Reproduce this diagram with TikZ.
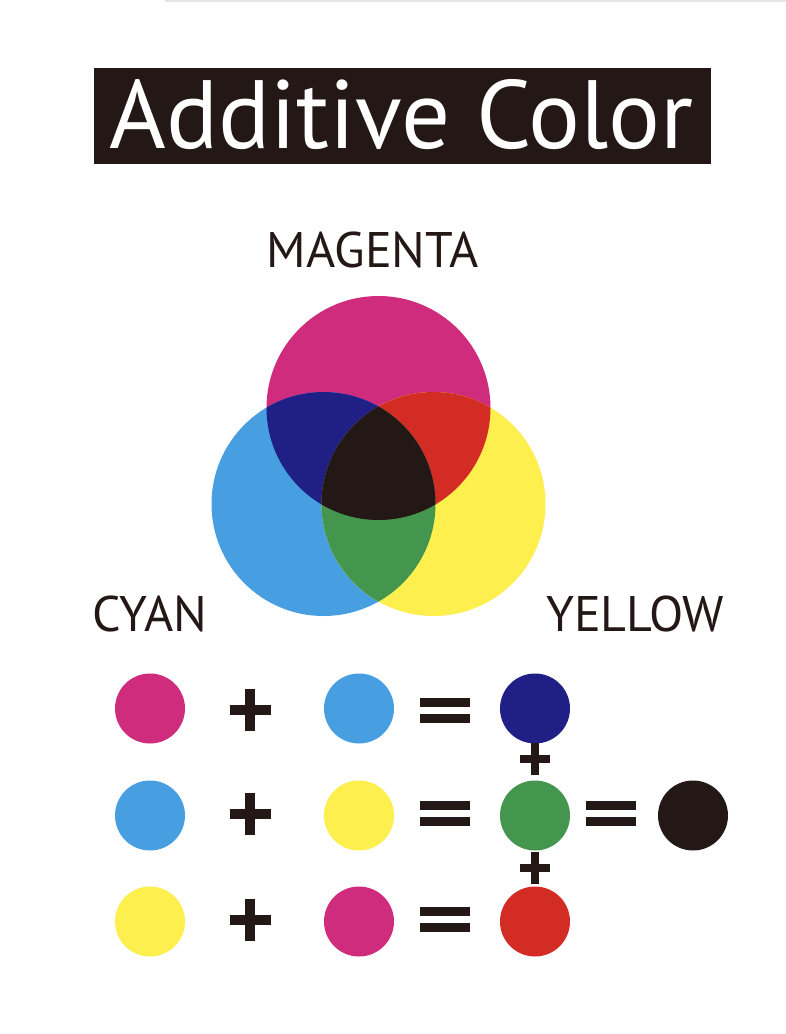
\documentclass[tikz,border=0pt]{standalone}
\usepackage{fontspec}
\setmainfont{PT Sans}
\usetikzlibrary{positioning}

\definecolor{magentaink}{HTML}{D02C7E}
\definecolor{cyanink}{HTML}{479FE1}
\definecolor{yellowink}{HTML}{FCEF4E}
\definecolor{blueink}{HTML}{1F1F85}
\definecolor{redink}{HTML}{D22C25}
\definecolor{greenink}{HTML}{44964F}
\definecolor{blackink}{HTML}{231815}

\begin{document}
\begin{tikzpicture}[
        x=1pt, y=-1pt,
        % big discs of the diagram
        bigdisc/.style={circle, minimum size=224pt, inner sep=0pt, fill=#1},
        % small discs of the sums
        colordot/.style={circle, minimum size=70pt, inner sep=0pt, fill=#1},
        inklabel/.style={font=\fontsize{50}{52}\selectfont, text=blackink, inner sep=0pt},
        pics/bigplus/.style={code={
            \fill[blackink] (-20.5pt,-5pt) rectangle (20.5pt,5pt);
            \fill[blackink] (-5pt,-21pt) rectangle (5pt,21pt);}},
        pics/smallplus/.style={code={
            \fill[blackink] (-15pt,-3.75pt) rectangle (15pt,3.75pt);
            \fill[blackink] (-3.75pt,-16pt) rectangle (3.75pt,16pt);}},
        pics/equalsign/.style={code={
            \fill[blackink] (-25pt,-12.5pt) rectangle (25pt,-3.5pt);
            \fill[blackink] (-25pt,3.5pt) rectangle (25pt,12.5pt);}}
    ]
    \useasboundingbox[fill=white] (0,0) rectangle (786,1034);

    % --- top rule and title ---
    \draw[black!10, line width=2pt] (165,1) -- (786,1);
    \node[fill=blackink, minimum width=617pt, minimum height=96pt, inner sep=0pt] (titlebox) at (402.5,116) {};
    \node[anchor=base, text=white, font=\fontsize{97}{100}\selectfont, inner sep=0pt] (title) at (401.5,148) {Additive Color};

    % --- the three discs ---
    \node[bigdisc=magentaink] (mag) at (378.5,408) {};
    \node[bigdisc=cyanink] (cya) at (323.5,504) {};
    \node[bigdisc=yellowink] (yel) at (433.5,504) {};

    % overlaps
    \begin{scope}
        \clip (mag.center) circle (112pt);
        \fill[blueink] (cya.center) circle (112pt);
        \fill[redink] (yel.center) circle (112pt);
    \end{scope}
    \begin{scope}
        \clip (cya.center) circle (112pt);
        \fill[greenink] (yel.center) circle (112pt);
        \clip (mag.center) circle (112pt);
        \fill[blackink] (yel.center) circle (112pt);
    \end{scope}

    \node[inklabel] (magtxt) at (373,250) {MAGENTA};
    \node[inklabel] (cyatxt) at (150,614) {CYAN};
    \node[inklabel] (yeltxt) at (635,614) {YELLOW};

    % --- sums ---
    \node[colordot=magentaink] (a1) at (150,708.5) {};
    \node[colordot=cyanink] (b1) at (359,708.5) {};
    \node[colordot=blueink] (c1) at (535,708.5) {};

    \node[colordot=cyanink] (a2) at (150,815.5) {};
    \node[colordot=yellowink] (b2) at (359,815.5) {};
    \node[colordot=greenink] (c2) at (535,815.5) {};
    \node[colordot=blackink] (d2) at (693,815.5) {};

    \node[colordot=yellowink] (a3) at (150,921.5) {};
    \node[colordot=magentaink] (b3) at (359,921.5) {};
    \node[colordot=redink] (c3) at (535,921.5) {};

    \pic at (250,710) {bigplus};
    \pic at (445,710) {equalsign};
    \pic at (250,814) {bigplus};
    \pic at (445,813) {equalsign};
    \pic at (611,813) {equalsign};
    \pic at (250,920) {bigplus};
    \pic at (445,919) {equalsign};

    \pic at (535,759) {smallplus};
    \pic at (535,868) {smallplus};

\end{tikzpicture}
\end{document}
